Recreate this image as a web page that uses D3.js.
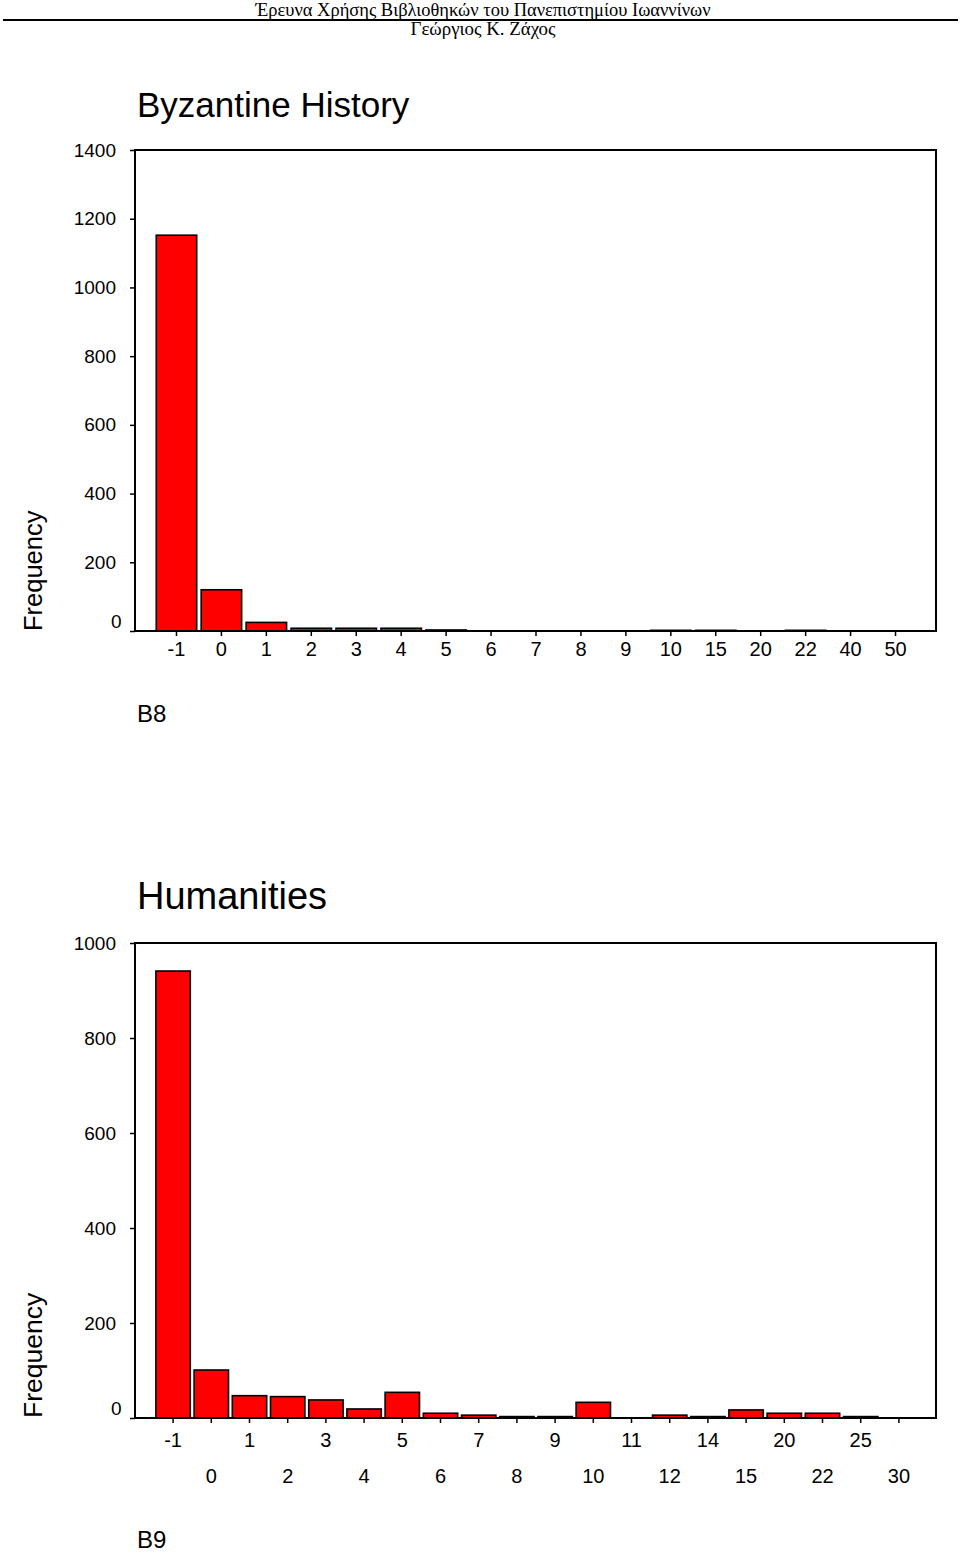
<!DOCTYPE html>
<html><head><meta charset="utf-8">
<script src="https://cdn.jsdelivr.net/npm/d3@7"></script>
<style>body{margin:0;background:#fff}svg{display:block}</style>
</head><body>
<script>
// Data
const cats1 = ["-1","0","1","2","3","4","5","6","7","8","9","10","15","20","22","40","50"];
const vals1 = [1152,120,25,8,8,8,3,0,0,0,0,2,2,0,2,0,0];
const yTicks1 = [0,200,400,600,800,1000,1200,1400];

const cats2 = ["-1","0","1","2","3","4","5","6","7","8","9","10","11","12","14","15","20","22","25","30"];
const vals2 = [941,101,47,45,38,19,54,10,6,3,3,33,0,6,3,17,10,10,3,0];
const yTicks2 = [0,200,400,600,800,1000];

const W = 960, H = 1553;
const svg = d3.select("body").append("svg").attr("width", W).attr("height", H);
const sans = "Liberation Sans, Arial, sans-serif";
const serif = "Liberation Serif, Times New Roman, serif";

// Header
svg.append("text").attr("x", 483).attr("y", 15.5).attr("text-anchor", "middle")
  .attr("font-family", serif).attr("font-size", 18)
  .attr("textLength", 455).attr("lengthAdjust", "spacingAndGlyphs")
  .text("Έρευνα Χρήσης Βιβλιοθηκών του Πανεπιστημίου Ιωαννίνων");
svg.append("line").attr("x1", 3).attr("x2", 958).attr("y1", 20).attr("y2", 20)
  .attr("stroke", "#000").attr("stroke-width", 2.2);
svg.append("text").attr("x", 483).attr("y", 35).attr("text-anchor", "middle")
  .attr("font-family", serif).attr("font-size", 18)
  .attr("textLength", 145).attr("lengthAdjust", "spacingAndGlyphs")
  .text("Γεώργιος Κ. Ζάχος");

function chart(opt) {
  const g = svg.append("g");
  const x = d3.scaleBand().domain(opt.cats).range([opt.bx0, opt.bx1]).paddingInner(0.1).paddingOuter(0.05);
  const y = d3.scaleLinear().domain([0, opt.ymax]).range([opt.yb, opt.yt]);

  // bars
  g.selectAll("rect.bar").data(opt.cats.map((c, i) => ({c, v: opt.vals[i]})).filter(d => d.v > 0))
    .join("rect").attr("class", "bar")
    .attr("x", d => x(d.c)).attr("width", x.bandwidth())
    .attr("y", d => y(d.v)).attr("height", d => y(0) - y(d.v))
    .attr("fill", "#ff0000").attr("stroke", "#000").attr("stroke-width", 1.6);

  // frame
  g.append("rect").attr("x", opt.x0).attr("y", opt.yt).attr("width", opt.x1 - opt.x0).attr("height", opt.yb - opt.yt)
    .attr("fill", "none").attr("stroke", "#000").attr("stroke-width", 2);

  // y axis
  const ya = d3.axisLeft(y).tickValues(opt.yTicks).tickSize(5).tickPadding(14).tickFormat(d3.format("d"));
  const yg = g.append("g").attr("transform", `translate(${opt.x0},0)`).call(ya);
  yg.select(".domain").remove();
  yg.selectAll("line").attr("stroke", "#000").attr("stroke-width", 1.5);
  yg.selectAll("text").attr("font-family", sans).attr("font-size", 19).attr("fill", "#000");
  yg.selectAll(".tick").filter(d => d === 0).select("text").attr("x", -13.5).attr("dy", "-0.16em");

  // x axis
  const xa = d3.axisBottom(x).tickSize(5).tickPadding(opt.xpad);
  const xg = g.append("g").attr("transform", `translate(0,${opt.yb})`).call(xa);
  xg.select(".domain").remove();
  xg.selectAll("line").attr("stroke", "#000").attr("stroke-width", 1.5);
  xg.selectAll("text").attr("font-family", sans).attr("font-size", 20).attr("fill", "#000");
  if (opt.stagger) {
    xg.selectAll(".tick text").attr("y", (d, i) => 5 + opt.xpad + (i % 2 === 0 ? 0 : 36));
  }

  // title
  g.append("text").attr("x", opt.x0 + 2).attr("y", opt.titleY).attr("font-family", sans)
    .attr("font-size", opt.titleSize).text(opt.title);
  // variable label
  g.append("text").attr("x", opt.x0 + 2).attr("y", opt.varY).attr("font-family", sans)
    .attr("font-size", 24).text(opt.varName);
  // y label
  g.append("text").attr("transform", `translate(42,${opt.yb}) rotate(-90)`)
    .attr("font-family", sans).attr("font-size", opt.fSize).text("Frequency");
}

chart({cats: cats1, vals: vals1, yTicks: yTicks1, ymax: 1400,
  x0: 135, x1: 936, bx0: 154, bx1: 918, yt: 150, yb: 631, xpad: 6,
  title: "Byzantine History", titleY: 117, titleSize: 35, varName: "B8", varY: 722, fSize: 25.5, stagger: false});

chart({cats: cats2, vals: vals2, yTicks: yTicks2, ymax: 1000,
  x0: 135, x1: 936, bx0: 154, bx1: 918, yt: 943, yb: 1418, xpad: 9.5,
  title: "Humanities", titleY: 909, titleSize: 38, varName: "B9", varY: 1548, fSize: 26.5, stagger: true});
</script>
</body></html>
